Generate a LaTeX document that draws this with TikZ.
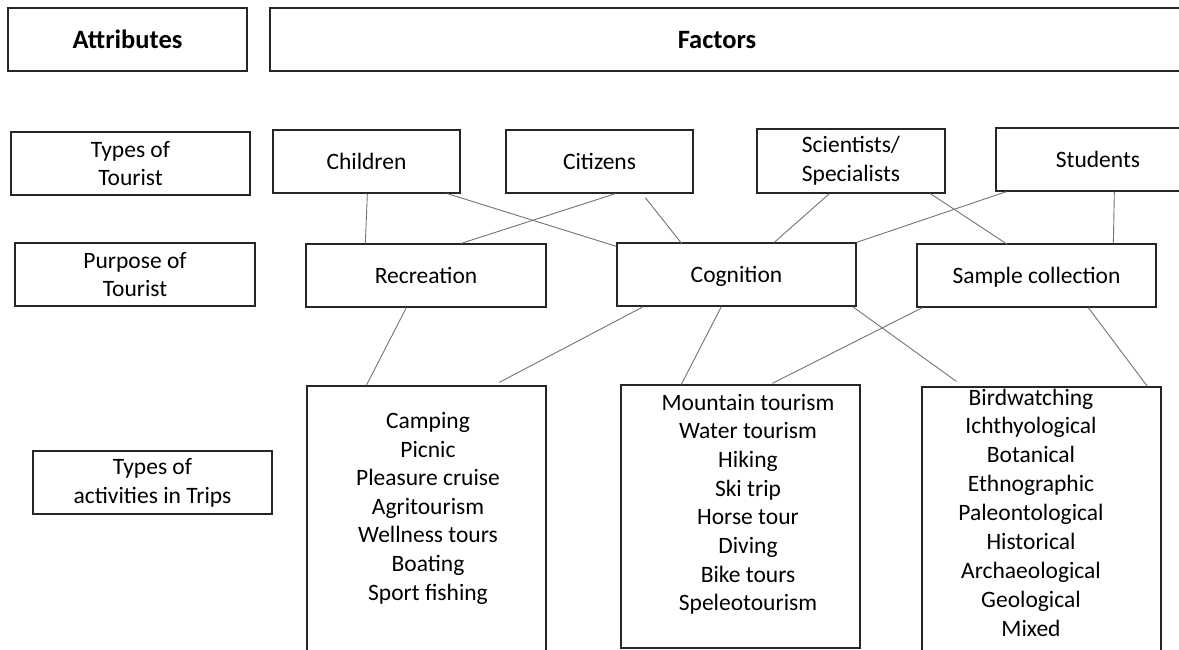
\documentclass[tikz,border=0pt]{standalone}
\usepackage{fontspec}
\setmainfont{Carlito}
\usetikzlibrary{calc}
\begin{document}
\begin{tikzpicture}[x=1pt,y=-1pt,
  box/.style={draw=black!85, line width=1.3pt, inner sep=0pt, align=center,
              font=\fontsize{23.5}{28.7}\selectfont},
  single/.style={text height=16pt, text depth=0pt},
  head/.style={inner sep=0pt, font=\fontsize{26.5}{32}\selectfont\bfseries},
  conn/.style={draw=black!55, line width=0.9pt},
  item/.style={inner sep=0pt, anchor=base, font=\fontsize{23.5}{28.7}\selectfont}]
\useasboundingbox (0,0) rectangle (1179,650);
\clip (0,0) rectangle (1179,650);
% header
\node[box, minimum width=239pt, minimum height=63pt, head] (attr) at (127.5,39.5) {Attributes};
\node[box, minimum width=930pt, minimum height=63pt] (factors) at (735,39.5) {};
\node[head] (factorslbl) at (717,40) {Factors};
% attribute boxes
\node[box, minimum width=239pt, minimum height=63pt] (tt) at (130.5,163.5) {Types of\\Tourist};
\node[box, minimum width=240pt, minimum height=63pt] (pt) at (135,274.5) {Purpose of\\Tourist};
\node[box, minimum width=239pt, minimum height=63pt] (at) at (152.5,482.5) {Types of\\activities in Trips};
% tourists
\node[box, single, minimum width=187pt, minimum height=63pt] (children) at (366.5,161.5) {Children};
\node[box, single, minimum width=187pt, minimum height=63pt] (citizens) at (599.5,161.5) {Citizens};
\node[box, minimum width=188pt, minimum height=64pt] (sci) at (851,161) {Scientists/\\Specialists};
\node[box, single, minimum width=204pt, minimum height=63pt] (students) at (1098,159.5) {Students};
% purposes
\node[box, single, minimum width=240pt, minimum height=63pt] (rec) at (426,275.5) {Recreation};
\node[box, single, minimum width=239pt, minimum height=63pt] (cog) at (736.5,274.5) {Cognition};
\node[box, single, minimum width=239pt, minimum height=63pt] (samp) at (1036.5,275.5) {Sample collection};
% activity boxes
\node[box, minimum width=239pt, minimum height=314pt] (ra) at (426.5,543) {};
\node[box, minimum width=239pt, minimum height=263pt] (ca) at (740.5,516.5) {};
\node[box, minimum width=239pt, minimum height=313pt] (sa) at (1041.5,543.5) {};
% activity lists
\foreach \t [count=\i] in {Camping,Picnic,Pleasure cruise,Agritourism,Wellness tours,Boating,Sport fishing}
  \node[item] (ri\i) at (428,{428.5+(\i-1)*28.6}) {\t};
\foreach \t [count=\i] in {Mountain tourism,Water tourism,Hiking,Ski trip,Horse tour,Diving,Bike tours,Speleotourism}
  \node[item] (ci\i) at (748,{410+(\i-1)*28.7}) {\t};
\foreach \t [count=\i] in {Birdwatching,Ichthyological,Botanical,Ethnographic,Paleontological,Historical,Archaeological,Geological,Mixed}
  \node[item] (si\i) at (1031,{405+(\i-1)*28.9}) {\t};
% connectors tourists -> purposes
\draw[conn] ($(children.south west)+(95,0)$) -- ($(rec.north west)+(60,0)$);
\draw[conn] ($(children.south west)+(175,0)$) -- ($(cog.north west)+(0,4)$);
\draw[conn] ($(citizens.south west)+(110,0)$) -- ($(rec.north west)+(156,0)$);
\draw[conn] ($(citizens.south west)+(140,4)$) -- ($(cog.north west)+(66,2)$);
\draw[conn] ($(sci.south west)+(73,0)$) -- ($(cog.north west)+(158,0)$);
\draw[conn] ($(sci.south west)+(174,0)$) -- ($(samp.north west)+(91,1)$);
\draw[conn] ($(students.south west)+(11,0)$) -- (cog.north east);
\draw[conn] ($(students.south west)+(119,0)$) -- ($(samp.north west)+(197,0)$);
% connectors purposes -> activities
\draw[conn] ($(rec.south west)+(101,0)$) -- ($(ra.north west)+(60,0)$);
\draw[conn] ($(cog.south west)+(27,0)$) -- ($(ra.north west)+(193,-3)$);
\draw[conn] ($(cog.south west)+(105,0)$) -- ($(ca.north west)+(61,0)$);
\draw[conn] ($(cog.south east)+(-4,0)$) -- ($(sa.north west)+(35,-5)$);
\draw[conn] ($(samp.south west)+(6,0)$) -- ($(ca.north west)+(152,-1)$);
\draw[conn] ($(samp.south west)+(172,0)$) -- ($(sa.north west)+(226,0)$);
\end{tikzpicture}
\end{document}
